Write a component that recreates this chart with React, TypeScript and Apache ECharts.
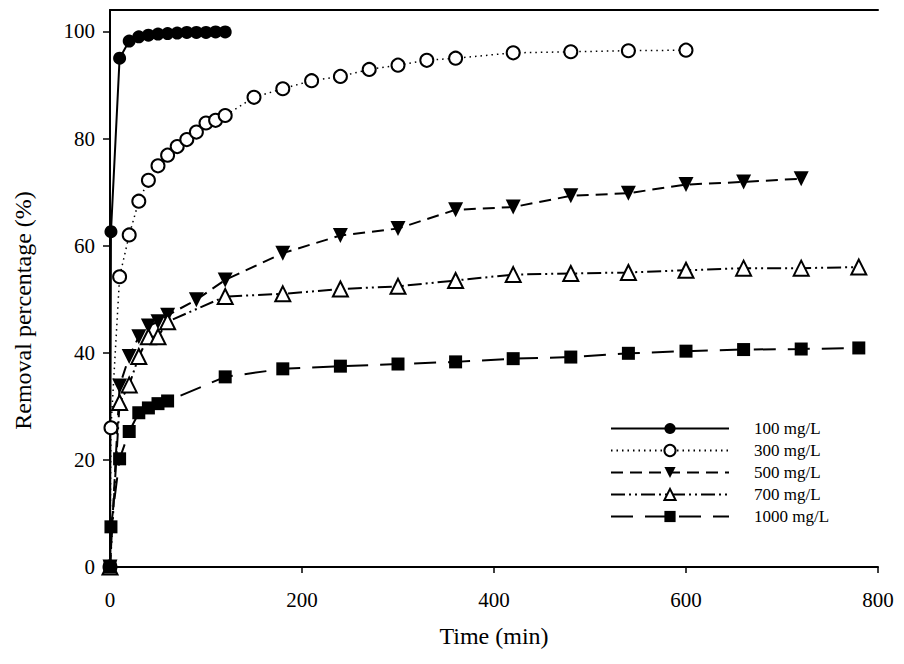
import React, { useEffect, useRef } from "react";
import * as echarts from "echarts";

const time100 = [0, 1, 10, 20, 30, 40, 50, 60, 70, 80, 90, 100, 110, 120];
const val100 = [0, 62.6, 95.0, 98.2, 99.0, 99.3, 99.5, 99.6, 99.7, 99.8, 99.8, 99.8, 99.9, 99.9];

const time300 = [0, 1, 10, 20, 30, 40, 50, 60, 70, 80, 90, 100, 110, 120, 150, 180, 210, 240, 270, 300, 330, 360, 420, 480, 540, 600];
const val300 = [0, 26.0, 54.2, 62.0, 68.3, 72.2, 74.9, 76.9, 78.5, 79.8, 81.2, 82.9, 83.4, 84.3, 87.7, 89.3, 90.8, 91.6, 92.9, 93.7, 94.6, 95.0, 96.0, 96.2, 96.4, 96.5];

const time500 = [0, 10, 20, 30, 40, 50, 60, 90, 120, 180, 240, 300, 360, 420, 480, 540, 600, 660, 720];
const val500 = [0, 33.8, 39.3, 43.0, 45.0, 45.8, 47.0, 49.9, 53.6, 58.6, 61.9, 63.2, 66.7, 67.2, 69.3, 69.8, 71.4, 71.9, 72.5];

const time700 = [0, 10, 20, 30, 40, 50, 60, 120, 180, 240, 300, 360, 420, 480, 540, 600, 660, 720, 780];
const val700 = [0, 30.7, 34.0, 39.3, 43.0, 43.0, 45.8, 50.5, 51.0, 51.9, 52.4, 53.5, 54.6, 54.8, 55.0, 55.4, 55.8, 55.8, 56.0];

const time1000 = [0, 1, 10, 20, 30, 40, 50, 60, 120, 180, 240, 300, 360, 420, 480, 540, 600, 660, 720, 780];
const val1000 = [0, 7.5, 20.2, 25.3, 28.8, 29.7, 30.5, 31.0, 35.5, 37.0, 37.5, 37.9, 38.3, 38.9, 39.2, 39.9, 40.3, 40.6, 40.7, 40.9];

const seriesNames = ["100 mg/L", "300 mg/L", "500 mg/L", "700 mg/L", "1000 mg/L"];
const xTicks = [0, 200, 400, 600, 800];
const yTicks = [0, 20, 40, 60, 80, 100];

const pairs = (t: number[], v: number[]) => t.map((x, i) => [x, v[i]]);

export default function App() {
  const ref = useRef<HTMLDivElement>(null);
  useEffect(() => {
    document.body.style.margin = "0";
    const chart = echarts.init(ref.current!, undefined, { renderer: "svg" });
    const font = "'Liberation Serif', 'Times New Roman', serif";
    const base = {
      type: "line",
      showSymbol: true,
      symbolSize: 13,
      color: "#000",
    };
    chart.setOption({
      animation: false,
      backgroundColor: "#fff",
      textStyle: { fontFamily: font, color: "#000" },
      grid: { left: 110, right: 26, top: 10, bottom: 97 },
      legend: {
        orient: "vertical",
        left: 605,
        top: 415,
        itemWidth: 118,
        itemHeight: 14,
        itemGap: 5,
        textStyle: { fontFamily: font, fontSize: 17, color: "#000", padding: [0, 0, 0, 20] },
        data: seriesNames,
      },
      xAxis: [
        {
          type: "value",
          min: 0,
          max: 800,
          interval: 200,
          name: "Time (min)",
          nameLocation: "middle",
          nameGap: 57,
          nameTextStyle: { fontFamily: font, fontSize: 24, color: "#000" },
          axisLine: { show: true, lineStyle: { color: "#000", width: 2 } },
          axisTick: { show: true, inside: false, length: 6, lineStyle: { color: "#000", width: 1.5 }, customValues: xTicks },
          axisLabel: { fontFamily: font, fontSize: 21, color: "#000", margin: 22, customValues: xTicks },
          splitLine: { show: false },
        },
        {
          type: "value",
          position: "top",
          min: 0,
          max: 800,
          axisLine: { show: true, lineStyle: { color: "#000", width: 2 } },
          axisTick: { show: false },
          axisLabel: { show: false },
          splitLine: { show: false },
        },
      ],
      yAxis: {
        type: "value",
        min: 0,
        max: 104,
        name: "Removal percentage (%)",
        nameLocation: "middle",
        nameGap: 75,
        nameTextStyle: { fontFamily: font, fontSize: 24, color: "#000", padding: [0, 44, 0, 0] },
        axisLine: { show: true, lineStyle: { color: "#000", width: 2 } },
        axisTick: { show: true, inside: false, length: 7, lineStyle: { color: "#000", width: 1.5 }, customValues: yTicks },
        axisLabel: { fontFamily: font, fontSize: 21, color: "#000", margin: 15, customValues: yTicks },
        splitLine: { show: false },
      },
      series: [
        {
          ...base,
          name: seriesNames[0],
          data: pairs(time100, val100),
          symbol: "circle",
          lineStyle: { color: "#000", width: 2, type: "solid" },
          itemStyle: { color: "#000" },
        },
        {
          ...base,
          name: seriesNames[1],
          data: pairs(time300, val300),
          symbol: "emptyCircle",
          symbolSize: 13,
          lineStyle: { color: "#000", width: 1.5, type: [1.5, 4] },
          itemStyle: { color: "#000", borderColor: "#000", borderWidth: 2 },
        },
        {
          ...base,
          name: seriesNames[2],
          data: pairs(time500, val500),
          symbol: "triangle",
          symbolRotate: 180,
          symbolSize: 15,
          lineStyle: { color: "#000", width: 2, type: [12, 7] },
          itemStyle: { color: "#000" },
        },
        {
          ...base,
          name: seriesNames[3],
          data: pairs(time700, val700),
          symbol: "emptyTriangle",
          symbolSize: 15,
          lineStyle: { color: "#000", width: 2, type: [14, 4, 2, 4, 2, 4] },
          itemStyle: { color: "#000", borderColor: "#000", borderWidth: 2 },
        },
        {
          ...base,
          name: seriesNames[4],
          data: pairs(time1000, val1000),
          symbol: "rect",
          symbolSize: 13,
          lineStyle: { color: "#000", width: 2, type: [22, 12] },
          itemStyle: { color: "#000" },
        },
      ],
    });
    return () => chart.dispose();
  }, []);
  return <div ref={ref} style={{ width: 904, height: 664 }} />;
}
